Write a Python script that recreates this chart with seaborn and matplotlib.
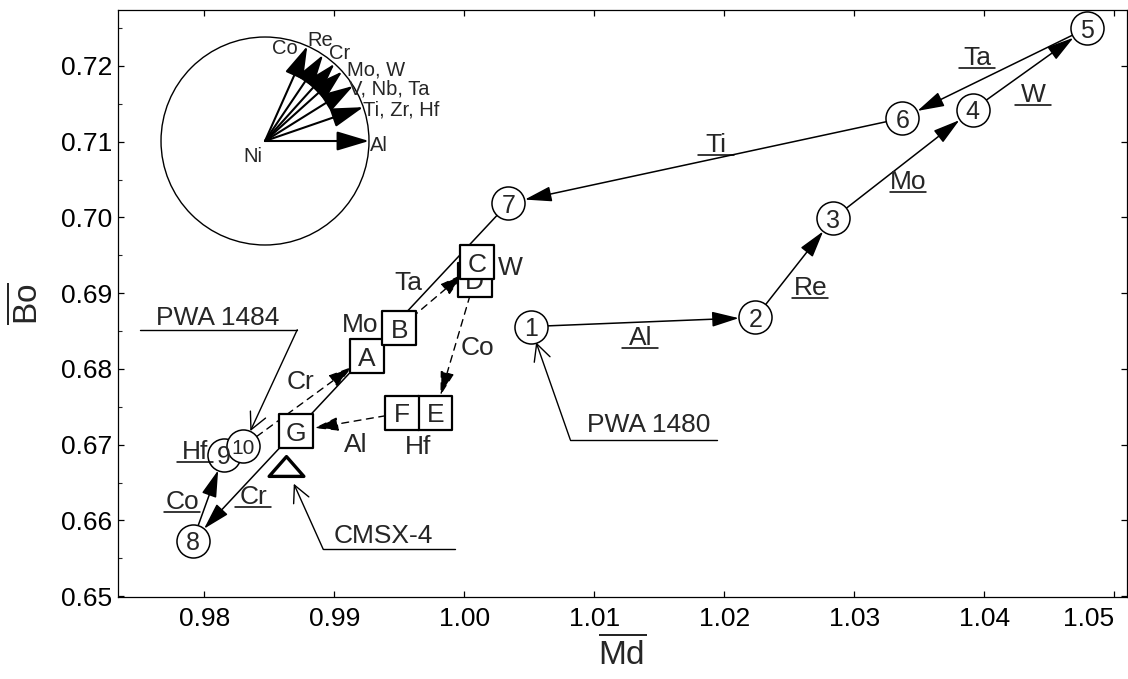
import numpy as np
import pandas as pd
import matplotlib
matplotlib.use("Agg")
import matplotlib.pyplot as plt
import seaborn as sns
from matplotlib.patches import Circle
from matplotlib.lines import Line2D
from matplotlib.path import Path
from matplotlib.ticker import FixedLocator, MultipleLocator

# ---------------- data ----------------
circle_labels = ["1", "2", "3", "4", "5", "6", "7", "8", "9", "10"]
circle_md = [1.0051, 1.0224, 1.0284, 1.0391, 1.0479, 1.0337, 1.0034, 0.9791, 0.9815, 0.9830]
circle_bo = [0.6856, 0.6868, 0.6999, 0.7142, 0.7250, 0.7131, 0.7019, 0.6573, 0.6687, 0.6698]
circle_steps = ["Al", "Re", "Mo", "W", "Ta", "Ti", "Cr", "Co", "Hf"]          # 1->2, 2->3, ...

square_labels = ["A", "B", "C", "D", "E", "F", "G"]
square_md = [0.9925, 0.9950, 1.0010, 1.0008, 0.99777, 0.99521, 0.98708]
square_bo = [0.6817, 0.6854, 0.6941, 0.6918, 0.6742, 0.6742, 0.6718]
square_steps = ["Cr", "Mo", "Ta", "W", "Co", "Hf", "Al"]                     # 10->A, A->B, ...

cmsx4_md = [0.98627]
cmsx4_bo = [0.6672]

callout_names = ["PWA 1480", "PWA 1484", "CMSX-4"]
callout_alloy = ["1", "10", "CMSX-4"]

inset_elements = ["Al", "Ti, Zr, Hf", "V, Nb, Ta", "Mo, W", "Cr", "Re", "Co"]
inset_angles = [0, 19, 32, 42, 48, 56, 66]

x_ticks = [0.98, 0.99, 1.00, 1.01, 1.02, 1.03, 1.04, 1.05]
y_ticks = [0.65, 0.66, 0.67, 0.68, 0.69, 0.70, 0.71, 0.72]

# ---------------- label layout (positions of annotations) ----------------
solid_lab_md = [1.01354, 1.02662, 1.03415, 1.04377, 1.03946, 1.01938, 0.98377, 0.97831, 0.97931]
solid_lab_bo = [0.68412, 0.69067, 0.70468, 0.71614, 0.72101, 0.70955, 0.66304, 0.66238, 0.66910]
dash_lab_md = [0.98738, 0.99200, 0.99569, 1.00354, 1.00100, 0.99646, 0.99162]
dash_lab_bo = [0.67833, 0.68584, 0.69137, 0.69335, 0.68281, 0.66976, 0.67003]
callout_txt_md = [1.01415, 0.98100, 0.99377]
callout_txt_bo = [0.67266, 0.68676, 0.65790]
callout_line_md0 = [1.00815, 0.97508, 0.98915]
callout_line_md1 = [1.01946, 0.98715, 0.99931]
callout_line_bo = [0.67068, 0.68518, 0.65619]
callout_foot_right = [False, True, False]
inset_lab_dx = [1.01, 0.94, 0.81, 0.79, 0.72, 0.53, 0.19]
inset_lab_dy = [-0.04, 0.30, 0.50, 0.68, 0.84, 0.97, 0.89]
inset_lab_ha = ["left", "left", "left", "left", "center", "center", "center"]

# ---------------- style ----------------
sns.set_style("ticks")
plt.rcParams["font.family"] = ["Liberation Sans", "DejaVu Sans"]
plt.rcParams["mathtext.fontset"] = "custom"
plt.rcParams["mathtext.rm"] = "Liberation Sans"
plt.rcParams["mathtext.it"] = "Liberation Sans:italic"
plt.rcParams["mathtext.bf"] = "Liberation Sans:bold"
plt.rcParams["axes.edgecolor"] = "black"

FS = 19
fig = plt.figure(figsize=(11.28, 6.79), dpi=100)
ax = fig.add_axes([0.10461, 0.12077, 0.89450, 0.86451])
ax.set_xlim(0.97336, 1.05098)
ax.set_ylim(0.6499, 0.72739)

circ = pd.DataFrame({"Md": circle_md, "Bo": circle_bo, "label": circle_labels})
sq = pd.DataFrame({"Md": square_md, "Bo": square_bo, "label": square_labels})
sq_under = sq[sq.label == "D"]      # D lies under C
sq_over = sq[sq.label != "D"]
cm = pd.DataFrame({"Md": cmsx4_md, "Bo": cmsx4_bo})

MS = 23.8
sns.scatterplot(data=circ, x="Md", y="Bo", marker="o", s=MS ** 2, color="white",
                edgecolor="black", linewidth=1.1, zorder=5, ax=ax, legend=False)
sns.scatterplot(data=sq_under, x="Md", y="Bo", marker="s", s=MS ** 2, color="white",
                edgecolor="black", linewidth=1.6, zorder=5, ax=ax, legend=False)
sns.scatterplot(data=sq_over, x="Md", y="Bo", marker="s", s=MS ** 2, color="white",
                edgecolor="black", linewidth=1.6, zorder=6, ax=ax, legend=False)
tri = Path([(-1, -0.57), (1, -0.57), (0, 0.57), (-1, -0.57)],
           [Path.MOVETO, Path.LINETO, Path.LINETO, Path.CLOSEPOLY])
sns.scatterplot(data=cm, x="Md", y="Bo", marker=tri, s=25 ** 2, color="white",
                edgecolor="black", linewidth=2.4, zorder=5, ax=ax, legend=False)

for _, r in circ.iterrows():
    ax.text(r.Md, r.Bo, r.label, ha="center", va="center_baseline",
            fontsize=18 if len(r.label) == 1 else 15, zorder=8)
for _, r in sq_under.iterrows():
    ax.text(r.Md, r.Bo, r.label, ha="center", va="center_baseline", fontsize=FS, zorder=5.5)
for _, r in sq_over.iterrows():
    ax.text(r.Md, r.Bo, r.label, ha="center", va="center_baseline", fontsize=FS, zorder=8)

# pixel helper to skip arrows between touching markers
def pix(x, y):
    return ax.transData.transform((x, y))

solid_head = "-|>,head_length=0.83,head_width=0.235"

# solid path (circles)
for i in range(len(circle_steps)):
    p0 = (circle_md[i], circle_bo[i]); p1 = (circle_md[i + 1], circle_bo[i + 1])
    if np.hypot(*(pix(*p1) - pix(*p0))) < 50:
        continue
    ax.annotate("", xy=p1, xytext=p0, zorder=3,
                arrowprops=dict(arrowstyle=solid_head, mutation_scale=20, color="black",
                                lw=1.1, shrinkA=12, shrinkB=12))

# dashed path (squares) starting at alloy 10
dmd = [circle_md[-1]] + square_md
dbo = [circle_bo[-1]] + square_bo
for i in range(len(square_steps)):
    p0 = (dmd[i], dbo[i]); p1 = (dmd[i + 1], dbo[i + 1])
    if np.hypot(*(pix(*p1) - pix(*p0))) < 50:
        continue
    ax.annotate("", xy=p1, xytext=p0, zorder=3,
                arrowprops=dict(arrowstyle=solid_head, mutation_scale=18, color="black",
                                lw=1.0, linestyle=(0, (5, 4)), shrinkA=12, shrinkB=13))

underlined = []
for lab, x, y in zip(circle_steps, solid_lab_md, solid_lab_bo):
    underlined.append(ax.text(x, y, lab, ha="center", va="center", fontsize=FS, zorder=8))
for lab, x, y in zip(square_steps, dash_lab_md, dash_lab_bo):
    ax.text(x, y, lab, ha="center", va="center", fontsize=FS, zorder=8)

# callouts
targets = {"1": (circle_md[0], circle_bo[0], 12), "10": (circle_md[-1], circle_bo[-1], 12),
           "CMSX-4": (cmsx4_md[0], cmsx4_bo[0], 14)}
for name, alloy, tx, ty, x0, x1, yl, right in zip(callout_names, callout_alloy, callout_txt_md,
                                                 callout_txt_bo, callout_line_md0, callout_line_md1,
                                                 callout_line_bo, callout_foot_right):
    ax.text(tx, ty, name, ha="center", va="center", fontsize=FS, zorder=8)
    ax.plot([x0, x1], [yl, yl], color="black", lw=1.0, zorder=4)
    foot = (x1, yl) if right else (x0, yl)
    txm, tym, shr = targets[alloy]
    ax.annotate("", xy=(txm, tym), xytext=foot, zorder=4,
                arrowprops=dict(arrowstyle="->,head_length=0.6,head_width=0.3", mutation_scale=20,
                                color="black", lw=1.0, shrinkA=0, shrinkB=shr))

# axes cosmetics
ax.xaxis.set_major_locator(FixedLocator(x_ticks))
ax.yaxis.set_major_locator(FixedLocator(y_ticks))
ax.set_xticklabels([f"{v:.2f}" for v in x_ticks])
ax.set_yticklabels([f"{v:.2f}" for v in y_ticks])
ax.get_xticklabels()[-1].set_ha("right")
ax.yaxis.set_minor_locator(MultipleLocator(0.005))
ax.tick_params(axis="both", which="major", direction="in", length=4, width=0.9,
               top=True, right=True, labelsize=FS, colors="black")
ax.tick_params(axis="x", which="major", pad=7)
ax.tick_params(axis="y", which="major", pad=4)
ax.tick_params(axis="y", which="minor", direction="in", length=3, width=0.8, left=True, right=False)
for s in ax.spines.values():
    s.set_linewidth(0.9)
    s.set_color("black")
ax.set_xlabel(r"$\overline{\mathrm{Md}}$", fontsize=24, labelpad=3)
ax.set_ylabel(r"$\overline{\mathrm{Bo}}$", fontsize=24, labelpad=12)

# inset: direction of alloying vectors
iax = fig.add_axes([0.12855, 0.6156, 0.21277, 0.35346])
iax.set_xlim(-1.154, 1.154)
iax.set_ylim(-1.154, 1.154)
iax.axis("off")
iax.add_patch(Circle((0, 0), 1.0, fill=False, lw=1.0, color="black"))
for ang in inset_angles:
    a = np.deg2rad(ang)
    iax.annotate("", xy=(np.cos(a), np.sin(a)), xytext=(0, 0),
                 arrowprops=dict(arrowstyle="-|>,head_length=1.0,head_width=0.3", mutation_scale=20,
                                 color="black", lw=1.5, shrinkA=0, shrinkB=0))
for lab, dx, dy, ha in zip(inset_elements, inset_lab_dx, inset_lab_dy, inset_lab_ha):
    iax.text(dx, dy, lab, ha=ha, va="center", fontsize=14.5)
iax.text(-0.12, -0.15, "Ni", ha="center", va="center", fontsize=14.5)

# underline the main-path step labels
fig.canvas.draw()
rend = fig.canvas.get_renderer()
W, H = fig.bbox.width, fig.bbox.height
for t in underlined:
    bb = t.get_window_extent(rend)
    cx = 0.5 * (bb.x0 + bb.x1)
    y = bb.y0 + 2
    fig.add_artist(Line2D([(cx - 18) / W, (cx + 18) / W], [y / H, y / H],
                          transform=fig.transFigure, color="black", lw=1.1))

fig.savefig("out.png", dpi=100)
